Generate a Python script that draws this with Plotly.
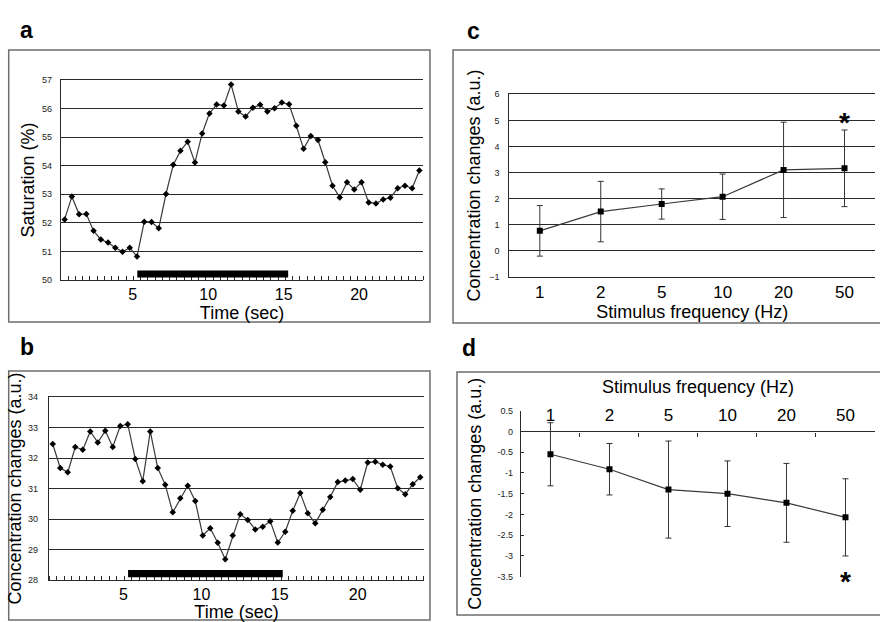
import plotly.graph_objects as go

# ---------------- data ----------------
time_sec = [0.48, 0.96, 1.44, 1.92, 2.40, 2.88, 3.36, 3.84, 4.32, 4.80,
            5.28, 5.76, 6.24, 6.72, 7.20, 7.68, 8.16, 8.64, 9.12, 9.60,
            10.08, 10.56, 11.04, 11.52, 12.00, 12.48, 12.96, 13.44, 13.92, 14.40,
            14.88, 15.36, 15.84, 16.32, 16.80, 17.28, 17.76, 18.24, 18.72, 19.20,
            19.68, 20.16, 20.64, 21.12, 21.60, 22.08, 22.56, 23.04, 23.52, 24.00]

saturation = [52.12, 52.92, 52.30, 52.31, 51.72, 51.42, 51.31, 51.13, 50.99, 51.13,
              50.82, 52.04, 52.03, 51.81, 53.01, 54.03, 54.52, 54.84, 54.11, 55.13,
              55.83, 56.14, 56.11, 56.84, 55.90, 55.72, 56.03, 56.13, 55.90, 56.01,
              56.21, 56.15, 55.40, 54.59, 55.04, 54.90, 54.12, 53.30, 52.89, 53.42,
              53.17, 53.42, 52.71, 52.68, 52.82, 52.88, 53.21, 53.30, 53.21, 53.83]

conc_time = [32.46, 31.67, 31.53, 32.36, 32.27, 32.87, 32.51, 32.89, 32.36, 33.05,
             33.11, 31.97, 31.24, 32.87, 31.67, 31.12, 30.22, 30.68, 31.09, 30.59,
             29.46, 29.70, 29.22, 28.68, 29.46, 30.16, 29.97, 29.66, 29.75, 29.93,
             29.23, 29.58, 30.27, 30.85, 30.19, 29.86, 30.30, 30.72, 31.21, 31.26,
             31.31, 30.96, 31.85, 31.88, 31.78, 31.72, 31.01, 30.81, 31.14, 31.37]

stim_a = [5.3, 15.3]        # stimulation period, panel a (sec)
stim_b = [5.3, 15.2]        # stimulation period, panel b (sec)
bar_a_level = [50.09, 50.33]
bar_b_level = [28.09, 28.33]

freq = ["1", "2", "5", "10", "20", "50"]
c_mean = [0.76, 1.50, 1.79, 2.07, 3.10, 3.16]
c_sd = [0.97, 1.16, 0.58, 0.87, 1.83, 1.47]
d_mean = [-0.55, -0.91, -1.40, -1.50, -1.72, -2.07]
d_sd = [0.76, 0.62, 1.17, 0.79, 0.95, 0.93]

c_star = ("50", 5.17)
d_star = ("50", -3.45)

a_yticks = [50, 51, 52, 53, 54, 55, 56, 57]
b_yticks = [28, 29, 30, 31, 32, 33, 34]
c_yticks = [-1, 0, 1, 2, 3, 4, 5, 6]
d_yticks = [0.5, 0, -0.5, -1, -1.5, -2, -2.5, -3, -3.5]
d_ytext = ["0.5", "0", "-0.5", "-1", "-1.5", "-2", "-2.5", "-3", "-3.5"]
d_grid = [-0.5, -1, -1.5, -2, -2.5, -3]
time_ticks = [5, 10, 15, 20]

# ---------------- style ----------------
FONT = "Liberation Sans, Arial, sans-serif"
NARROW = "Liberation Sans Narrow, Liberation Sans, Arial, sans-serif"
GRID = "#2a2a2a"
LINE = "#3a3a3a"
FRAME = "#6e6e6e"

fig = go.Figure()

# panel a
fig.add_trace(go.Scatter(x=time_sec, y=saturation, mode="lines+markers",
                         line=dict(color=LINE, width=1.2),
                         marker=dict(symbol="diamond", size=5, color="black"),
                         xaxis="x", yaxis="y", showlegend=False))
# panel b
fig.add_trace(go.Scatter(x=time_sec, y=conc_time, mode="lines+markers",
                         line=dict(color=LINE, width=1.2),
                         marker=dict(symbol="diamond", size=5, color="black"),
                         xaxis="x2", yaxis="y2", showlegend=False))
# panel c
fig.add_trace(go.Scatter(x=freq, y=c_mean, mode="lines+markers",
                         line=dict(color=LINE, width=1.2),
                         marker=dict(symbol="square", size=6, color="black"),
                         error_y=dict(type="data", array=c_sd, visible=True,
                                      color="#333", thickness=1, width=3),
                         xaxis="x3", yaxis="y3", showlegend=False))
# panel d
fig.add_trace(go.Scatter(x=freq, y=d_mean, mode="lines+markers",
                         line=dict(color=LINE, width=1.2),
                         marker=dict(symbol="square", size=6, color="black"),
                         error_y=dict(type="data", array=d_sd, visible=True,
                                      color="#333", thickness=1, width=3),
                         xaxis="x4", yaxis="y4", showlegend=False))

# stimulation bars (data coordinates)
fig.add_shape(type="rect", xref="x", yref="y", x0=stim_a[0], x1=stim_a[1],
              y0=bar_a_level[0], y1=bar_a_level[1], fillcolor="black", line_width=0)
fig.add_shape(type="rect", xref="x2", yref="y2", x0=stim_b[0], x1=stim_b[1],
              y0=bar_b_level[0], y1=bar_b_level[1], fillcolor="black", line_width=0)

# panel frames
frames = [(0.0099, 0.4823, 0.4886, 0.9196), (0.0099, 0.0032, 0.4886, 0.4035),
          (0.5148, 0.4807, 1.01, 0.9196), (0.5193, 0.0113, 1.01, 0.4019)]
for x0, y0, x1, y1 in frames:
    fig.add_shape(type="rect", xref="paper", yref="paper", x0=x0, y0=y0, x1=x1, y1=y1,
                  line=dict(color=FRAME, width=1.5), fillcolor="rgba(0,0,0,0)", layer="below")

# panel letters
for txt, x, y in [("a", 0.0205, 0.976), ("b", 0.0205, 0.442),
                  ("c", 0.5375, 0.974), ("d", 0.533, 0.4405)]:
    fig.add_annotation(text=f"<b>{txt}</b>", x=x, y=y, xref="paper", yref="paper",
                       showarrow=False, font=dict(family=FONT, size=23, color="black"))

# asterisks (category position by index)
fig.add_annotation(text="<b>*</b>", x=freq.index(c_star[0]), y=c_star[1], xref="x3", yref="y3",
                   showarrow=False, yshift=-7, font=dict(family=FONT, size=28, color="black"))
fig.add_annotation(text="<b>*</b>", x=freq.index(d_star[0]), y=d_star[1], xref="x4", yref="y4",
                   showarrow=False, yshift=-7, font=dict(family=FONT, size=28, color="black"))

tick_small = dict(family=NARROW, size=9, color="#222")
title_font = dict(family=FONT, size=18, color="black")

time_axis = dict(range=[0.24, 24.24], tickvals=time_ticks, ticks="",
                 showline=True, mirror=True, linecolor=GRID, linewidth=1.3,
                 showgrid=False, zeroline=False,
                 tickfont=dict(family=FONT, size=16, color="black"),
                 minor=dict(ticks="inside", ticklen=4, tickcolor=GRID,
                            tick0=0.24, dtick=0.48, showgrid=False),
                 title=dict(text="Time (sec)", font=title_font, standoff=2))

fig.update_layout(
    width=880, height=622, autosize=False,
    margin=dict(l=0, r=0, t=0, b=0),
    paper_bgcolor="white", plot_bgcolor="white",
    template="none",
    font=dict(family=FONT, color="black"),
    xaxis=dict(domain=[0.0693, 0.4807], anchor="y", **time_axis),
    yaxis=dict(domain=[0.5498, 0.8714], anchor="x", range=[50, 57], tickvals=a_yticks,
               showgrid=True, gridcolor=GRID, gridwidth=1.3, showline=True,
               linecolor=GRID, linewidth=1.3, zeroline=False, ticks="",
               tickfont=tick_small, ticklabelstandoff=6,
               title=dict(text="Saturation (%)", font=title_font, standoff=2)),
    xaxis2=dict(domain=[0.0557, 0.4818], anchor="y2", **time_axis),
    yaxis2=dict(domain=[0.0675, 0.3617], anchor="x2", range=[28, 34], tickvals=b_yticks,
                showgrid=True, gridcolor=GRID, gridwidth=1.3, showline=True,
                linecolor=GRID, linewidth=1.3, zeroline=False, ticks="",
                tickfont=tick_small, ticklabelstandoff=8,
                title=dict(text="Concentration changes (a.u.)", font=title_font, standoff=1)),
    xaxis3=dict(domain=[0.5788, 0.9943], anchor="y3", type="category",
                categoryorder="array", categoryarray=freq,
                range=[-0.5, 5.5], showline=True, mirror=True, linecolor=GRID,
                linewidth=1.3, ticks="", showgrid=False, zeroline=False,
                tickfont=dict(family=FONT, size=17, color="black"),
                title=dict(text="Stimulus frequency (Hz)", font=title_font, standoff=0)),
    xaxis5=dict(overlaying="x3", anchor="free", position=0.5970, type="linear",
                range=[-0.5, 5.5], tickvals=[0.5, 1.5, 2.5, 3.5, 4.5, 5.5],
                showticklabels=False, ticks="outside", ticklen=4, tickcolor=GRID,
                tickwidth=1.3, showline=True, linecolor=GRID, linewidth=1.3,
                showgrid=False, zeroline=False),
    yaxis3=dict(domain=[0.5551, 0.8484], anchor="x3", range=[-1, 6], tickvals=c_yticks,
                showgrid=True, gridcolor=GRID, gridwidth=1.3, showline=True,
                linecolor=GRID, linewidth=1.3, zeroline=False, ticks="",
                tickfont=tick_small, ticklabelstandoff=7,
                title=dict(text="Concentration changes (a.u.)", font=title_font, standoff=3)),
    xaxis4=dict(domain=[0.5920, 0.9943], anchor="free", position=0.3063, side="top",
                type="category", categoryorder="array", categoryarray=freq,
                range=[-0.5, 5.5], tickson="boundaries", ticks="inside", ticklen=4,
                tickwidth=1.3, tickcolor=GRID, showline=True, linecolor=GRID, linewidth=1.3,
                showgrid=False, zeroline=False, ticklabelstandoff=4,
                tickfont=dict(family=FONT, size=17, color="black"),
                title=dict(text="Stimulus frequency (Hz)", font=title_font, standoff=6)),
    yaxis4=dict(domain=[0.0728, 0.3397], anchor="x4", range=[-3.5, 0.5],
                tickvals=d_yticks, ticktext=d_ytext, showgrid=False, showline=True,
                linecolor=GRID, linewidth=1.3, zeroline=False, ticks="inside",
                ticklen=3, tickcolor=GRID, tickfont=tick_small, ticklabelstandoff=5,
                title=dict(text="Concentration changes (a.u.)", font=title_font, standoff=11)),
    yaxis5=dict(overlaying="y4", anchor="x4", range=[-3.5, 0.5], tickvals=d_grid,
                showticklabels=False, ticks="", showgrid=True, gridcolor=GRID,
                gridwidth=1.3, showline=False, zeroline=False),
)

fig.write_html("out.html", config={"displayModeBar": False},
               post_script="document.body.style.margin='0';document.body.style.overflow='hidden';")
